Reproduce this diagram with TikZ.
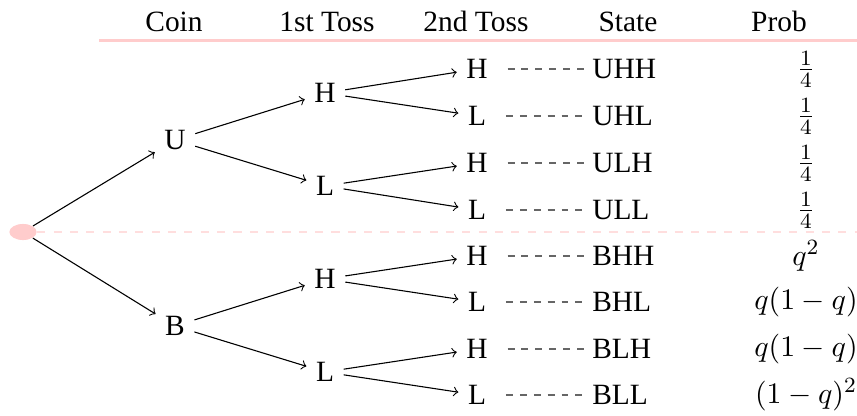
\documentclass[tikz,border=0pt]{standalone}
\usepackage{fontspec}
\setmainfont{Liberation Serif}
\usetikzlibrary{shapes.geometric}
\begin{document}
\begin{tikzpicture}[x=0.367pt,y=-0.367pt,
  font=\fontsize{10.8pt}{13pt}\selectfont,
  rootnode/.style={ellipse,fill=red!20,minimum width=10pt,minimum height=5.9pt,inner sep=0pt},
  tnode/.style={inner sep=3.33pt},
  snode/.style={inner sep=1pt,anchor=west},
  hdr/.style={anchor=base},
  arr/.style={->,line width=0.4pt},
  lnk/.style={black!60,line width=0.4pt,dash pattern=on 2.55pt off 2.55pt,shorten <=3.8pt},
  pinkrule/.style={red!20,line width=1.1pt},
  pinkdash/.style={red!13,line width=0.8pt,dashed}]
\useasboundingbox (0,0) rectangle (857,415);
% header
\node[hdr] (hc) at (174,31) {Coin};
\node[hdr] (h1) at (327,31) {1st Toss};
\node[hdr] (h2) at (476,31) {2nd Toss};
\node[hdr] (hs) at (628,31) {State};
\node[hdr] (hp) at (779,31) {Prob};
\coordinate (hl) at (99,40);
\coordinate (hr) at (857,40);
\draw[pinkrule] (hl) -- (hr);
% root
\node[rootnode] (r) at (23,232) {};
\coordinate (re) at (857,232);
\draw[pinkdash] (r.east) -- (re);
% coin
\node[tnode] (U) at (175,140) {U};
\node[tnode] (B) at (175,326) {B};
% first toss
\node[tnode] (UH) at (325,93) {H};
\node[tnode] (UL) at (325,186) {L};
\node[tnode] (BH) at (325,279) {H};
\node[tnode] (BL) at (325,372) {L};
% second toss
\foreach \n/\t/\y in {UHH/H/69,UHL/L/116,ULH/H/163,ULL/L/210,BHH/H/256,BHL/L/302,BLH/H/349,BLL/L/395}{
  \node[tnode] (l\n) at (477,\y) {\t};
  \node[snode] (s\n) at (589,\y) {\n};
}
% probabilities
\node (pUHH) at (806,69) {$\frac{1}{4}$};
\node (pUHL) at (806,116) {$\frac{1}{4}$};
\node (pULH) at (806,163) {$\frac{1}{4}$};
\node (pULL) at (806,210) {$\frac{1}{4}$};
\node (pBHH) at (806,256) {$q^2$};
\node (pBHL) at (806,302) {$q(1-q)$};
\node (pBLH) at (806,349) {$q(1-q)$};
\node (pBLL) at (806,395) {$(1-q)^2$};
% edges
\draw[arr] (r) -- (U);
\draw[arr] (r) -- (B);
\draw[arr] (U) -- (UH);
\draw[arr] (U) -- (UL);
\draw[arr] (B) -- (BH);
\draw[arr] (B) -- (BL);
\draw[arr] (UH) -- (lUHH);
\draw[arr] (UH) -- (lUHL);
\draw[arr] (UL) -- (lULH);
\draw[arr] (UL) -- (lULL);
\draw[arr] (BH) -- (lBHH);
\draw[arr] (BH) -- (lBHL);
\draw[arr] (BL) -- (lBLH);
\draw[arr] (BL) -- (lBLL);
\foreach \n in {UHH,UHL,ULH,ULL,BHH,BHL,BLH,BLL}{
  \draw[lnk] (l\n) -- (s\n);
}
\end{tikzpicture}
\end{document}
